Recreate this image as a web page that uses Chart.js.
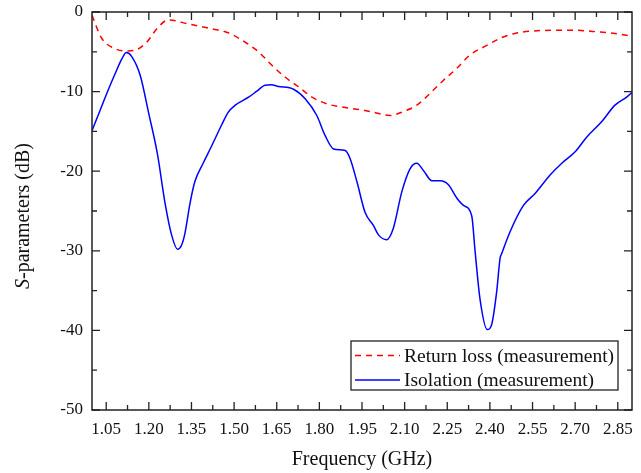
<!DOCTYPE html>
<html>
<head>
<meta charset="utf-8">
<script src="https://cdn.jsdelivr.net/npm/chart.js@4.4.1/dist/chart.umd.min.js"></script>
<style>
  html, body { margin: 0; padding: 0; background: #fff; }
  #wrap { width: 641px; height: 473px; }
</style>
</head>
<body>
<div id="wrap"><canvas id="sparams"></canvas></div>
<script>
// Return loss (S11) measurement, GHz / dB
const returnFreq = [1.000, 1.034, 1.081, 1.116, 1.151, 1.192, 1.233, 1.268, 1.339, 1.432, 1.479, 1.539,
  1.586, 1.633, 1.680, 1.727, 1.774, 1.832, 1.891, 1.949, 1.990, 2.049, 2.096, 2.143, 2.190, 2.236,
  2.283, 2.330, 2.389, 2.436, 2.488, 2.547, 2.617, 2.699, 2.781, 2.840, 2.900];
const returnLoss = [-0.4, -3.3, -4.6, -4.9, -4.8, -3.8, -1.9, -1.0, -1.5, -2.2, -2.6, -3.8,
  -5.0, -6.7, -8.2, -9.4, -10.7, -11.6, -12.0, -12.3, -12.6, -13.0, -12.5, -11.7, -10.2, -8.6,
  -7.1, -5.4, -4.2, -3.3, -2.7, -2.4, -2.3, -2.3, -2.5, -2.7, -3.05];

// Isolation (S21) measurement, GHz / dB
const isoFreq = [1.000, 1.029, 1.057, 1.082, 1.105, 1.121, 1.140, 1.170, 1.200, 1.230, 1.257, 1.280,
  1.301, 1.315, 1.327, 1.345, 1.362, 1.391, 1.420, 1.456, 1.479, 1.504, 1.551, 1.580, 1.609, 1.630,
  1.656, 1.709, 1.750, 1.791, 1.820, 1.850, 1.891, 1.908, 1.932, 1.961, 1.990, 2.008, 2.037, 2.060,
  2.090, 2.119, 2.143, 2.166, 2.196, 2.225, 2.254, 2.284, 2.307, 2.336, 2.348, 2.365, 2.391, 2.406,
  2.424, 2.436, 2.442, 2.471, 2.518, 2.559, 2.611, 2.653, 2.699, 2.741, 2.793, 2.840, 2.881, 2.900];
const isolation = [-14.9, -12.3, -9.8, -7.7, -5.9, -5.1, -5.6, -8.0, -12.8, -17.8, -24.0, -28.0,
  -29.8, -29.3, -27.8, -24.0, -21.3, -19.0, -16.9, -14.2, -12.6, -11.7, -10.7, -9.95, -9.2, -9.15,
  -9.35, -9.7, -10.9, -13.0, -15.5, -17.2, -17.4, -18.4, -21.3, -25.2, -26.8, -28.0, -28.6, -27.2,
  -22.6, -19.7, -19.0, -19.9, -21.2, -21.2, -21.7, -23.4, -24.3, -25.6, -30.1, -36.0, -39.9, -39.3,
  -35.1, -30.9, -30.3, -27.6, -24.3, -22.8, -20.5, -19.0, -17.6, -15.7, -13.8, -11.7, -10.7, -10.1];

const xTicks = [1.05, 1.20, 1.35, 1.50, 1.65, 1.80, 1.95, 2.10, 2.25, 2.40, 2.55, 2.70, 2.85];
const yTicks = [-50, -40, -30, -20, -10, 0];

const serif = "'Liberation Serif', 'Times New Roman', serif";

function pairs(xs, ys) {
  return xs.map((x, i) => ({ x: x, y: ys[i] }));
}

// frame, inward ticks on all four sides, boxed legend and the y title
const framePlugin = {
  id: 'frame',
  afterDraw(chart) {
    const ctx = chart.ctx;
    const a = chart.chartArea;
    const xs = chart.scales.x;
    const ys = chart.scales.y;
    ctx.save();
    ctx.strokeStyle = '#222';
    ctx.lineWidth = 1.5;
    ctx.strokeRect(a.left, a.top, a.right - a.left, a.bottom - a.top);

    ctx.lineWidth = 1.3;
    ctx.beginPath();
    xTicks.forEach((v, i) => {
      const px = xs.getPixelForValue(v);
      ctx.moveTo(px, a.bottom); ctx.lineTo(px, a.bottom - 8);
      ctx.moveTo(px, a.top); ctx.lineTo(px, a.top + 8);
      if (i < xTicks.length - 1) {
        const mx = xs.getPixelForValue((v + xTicks[i + 1]) / 2);
        ctx.moveTo(mx, a.bottom); ctx.lineTo(mx, a.bottom - 5);
        ctx.moveTo(mx, a.top); ctx.lineTo(mx, a.top + 5);
      }
    });
    yTicks.forEach((v, i) => {
      const py = ys.getPixelForValue(v);
      ctx.moveTo(a.left, py); ctx.lineTo(a.left + 8, py);
      ctx.moveTo(a.right, py); ctx.lineTo(a.right - 8, py);
      if (i < yTicks.length - 1) {
        const my = ys.getPixelForValue((v + yTicks[i + 1]) / 2);
        ctx.moveTo(a.left, my); ctx.lineTo(a.left + 5, my);
        ctx.moveTo(a.right, my); ctx.lineTo(a.right - 5, my);
      }
    });
    ctx.stroke();

    // legend box, lower right
    const boxR = a.right - 14, boxB = a.bottom - 20;
    const boxW = 267, boxH = 49;
    const boxL = boxR - boxW, boxT = boxB - boxH;
    ctx.fillStyle = '#fff';
    ctx.fillRect(boxL, boxT, boxW, boxH);
    ctx.lineWidth = 1.3;
    ctx.strokeStyle = '#222';
    ctx.strokeRect(boxL, boxT, boxW, boxH);
    ctx.font = '19.5px ' + serif;
    ctx.textBaseline = 'middle';
    chart.data.datasets.forEach((ds, i) => {
      const cy = boxT + 14.5 + i * 24.5;
      ctx.strokeStyle = ds.borderColor;
      ctx.lineWidth = ds.borderWidth;
      ctx.setLineDash(ds.borderDash || []);
      ctx.beginPath();
      ctx.moveTo(boxL + 4, cy); ctx.lineTo(boxL + 49, cy);
      ctx.stroke();
      ctx.setLineDash([]);
      ctx.fillStyle = '#111';
      ctx.fillText(ds.label, boxL + 53, cy + 1);
    });

    // y title with italic S
    ctx.translate(24, (a.top + a.bottom) / 2 + 5);
    ctx.rotate(-Math.PI / 2);
    ctx.fillStyle = '#111';
    ctx.textBaseline = 'middle';
    ctx.font = 'italic 20px ' + serif;
    const sW = ctx.measureText('S').width;
    ctx.font = '20px ' + serif;
    const rest = '-parameters (dB)';
    const total = sW + ctx.measureText(rest).width;
    ctx.textAlign = 'left';
    ctx.font = 'italic 20px ' + serif;
    ctx.fillText('S', -total / 2, 0);
    ctx.font = '20px ' + serif;
    ctx.fillText(rest, -total / 2 + sW, 0);
    ctx.restore();
  }
};

const ctx = document.getElementById('sparams').getContext('2d');
const chart = new Chart(ctx, {
  type: 'line',
  data: {
    datasets: [{
      label: 'Return loss (measurement)',
      data: pairs(returnFreq, returnLoss),
      borderColor: '#ff0000',
      borderWidth: 1.5,
      borderDash: [6, 5],
      pointRadius: 0,
      fill: false,
      cubicInterpolationMode: 'monotone'
    }, {
      label: 'Isolation (measurement)',
      data: pairs(isoFreq, isolation),
      borderColor: '#0000ff',
      borderWidth: 1.5,
      pointRadius: 0,
      fill: false,
      cubicInterpolationMode: 'monotone'
    }]
  },
  options: {
    responsive: true,
    maintainAspectRatio: false,
    animation: false,
    layout: { padding: { left: 0, right: 9, top: 12, bottom: 0 } },
    plugins: {
      legend: { display: false },
      tooltip: { enabled: false }
    },
    scales: {
      x: {
        type: 'linear',
        min: 1.0,
        max: 2.9,
        afterBuildTicks: s => { s.ticks = xTicks.map(v => ({ value: v })); },
        afterFit: s => { s.height = 63; s.paddingLeft = 0; s.paddingRight = 0; },
        grid: { display: false, drawTicks: false },
        border: { display: false },
        ticks: {
          color: '#111',
          padding: 9,
          maxRotation: 0,
          font: { family: serif, size: 17 },
          callback: v => v.toFixed(2)
        },
        title: {
          display: true,
          text: 'Frequency (GHz)',
          color: '#111',
          padding: { top: 8, bottom: 1 },
          font: { family: serif, size: 20 }
        }
      },
      y: {
        min: -50,
        max: 0,
        afterBuildTicks: s => { s.ticks = yTicks.map(v => ({ value: v })); },
        afterFit: s => { s.width = 92; s.paddingTop = 0; s.paddingBottom = 0; },
        grid: { display: false, drawTicks: false },
        border: { display: false },
        ticks: {
          color: '#111',
          padding: 9,
          font: { family: serif, size: 17 },
          callback: v => String(v)
        }
      }
    }
  },
  plugins: [framePlugin]
});
</script>
</body>
</html>
